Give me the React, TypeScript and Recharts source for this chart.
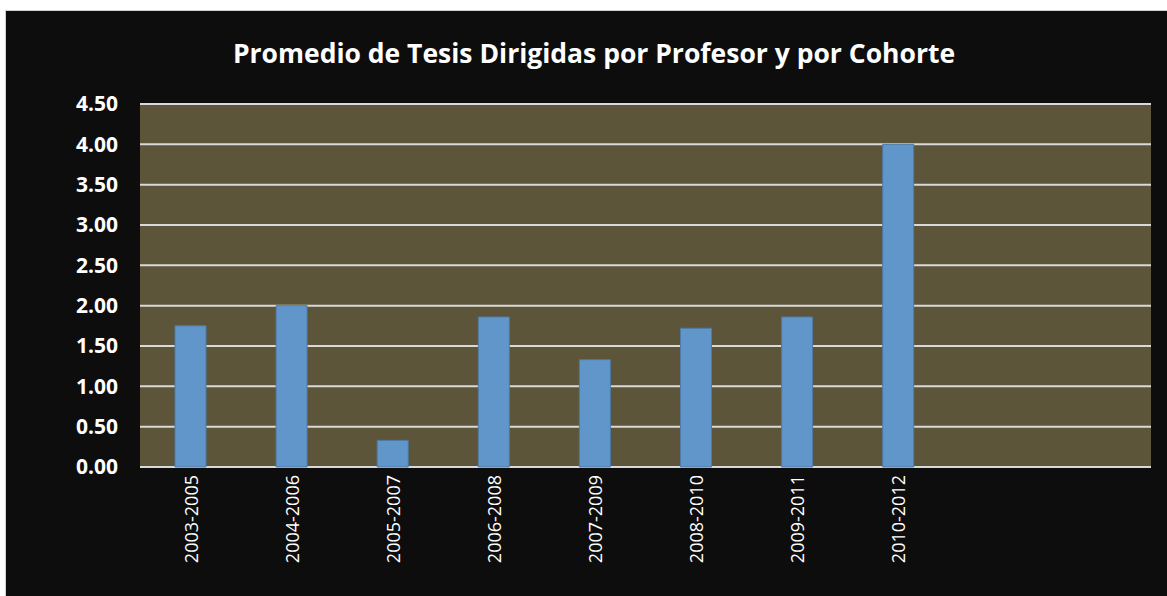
import React from "react";
import { BarChart, Bar, XAxis, YAxis, CartesianGrid } from "recharts";

const cohorts = [
  "2003-2005",
  "2004-2006",
  "2005-2007",
  "2006-2008",
  "2007-2009",
  "2008-2010",
  "2009-2011",
  "2010-2012",
  "",
  " ",
];
const promedio = [1.75, 2.0, 0.33, 1.86, 1.33, 1.72, 1.86, 4.0, null, null];
const yTicks = [0, 0.5, 1, 1.5, 2, 2.5, 3, 3.5, 4, 4.5];

const data = cohorts.map((c, i) => ({ cohorte: c, promedio: promedio[i] }));

const FONT = "'Open Sans', sans-serif";

const CohortTick = (props: any) => {
  const { x, y, payload } = props;
  return (
    <text
      x={x}
      y={y}
      transform={`rotate(-90, ${x}, ${y})`}
      textAnchor="end"
      dominantBaseline="central"
      fill="#ffffff"
      fontSize={18}
      fontFamily={FONT}
    >
      {payload.value}
    </text>
  );
};

const App = () => {
  return (
    <div
      style={{
        position: "absolute",
        left: 0,
        top: 0,
        width: 1167,
        height: 596,
        background: "#ffffff",
        fontFamily: FONT,
      }}
    >
      <div
        style={{
          position: "absolute",
          left: 5,
          top: 10,
          width: 1162,
          height: 586,
          background: "#0d0d0d",
          borderTop: "1px solid #d0d0d0",
          borderLeft: "1px solid #d0d0d0",
        }}
      >
        <div
          style={{
            position: "absolute",
            left: 0,
            top: 24,
            width: 1176,
            textAlign: "center",
            color: "#ffffff",
            fontWeight: 700,
            fontSize: 26.5,
            whiteSpace: "nowrap",
          }}
        >
          Promedio de Tesis Dirigidas por Profesor y por Cohorte
        </div>
        <BarChart
          width={1161}
          height={585}
          data={data}
          margin={{ top: 93, right: 16, left: 0, bottom: 0 }}
        >
          <CartesianGrid
            vertical={false}
            fill="#5c5539"
            stroke="#d9d9d9"
            strokeWidth={2}
          />
          <XAxis
            dataKey="cohorte"
            height={129}
            axisLine={false}
            tickLine={false}
            interval={0}
            tick={<CohortTick />}
            tickSize={0}
            tickMargin={8}
          />
          <YAxis
            width={134}
            domain={[0, 4.5]}
            ticks={yTicks}
            axisLine={false}
            tickLine={false}
            tickSize={0}
            tickMargin={22}
            tickFormatter={(v: number) => v.toFixed(2)}
            tick={{ fill: "#ffffff", fontSize: 21, fontWeight: 700, fontFamily: FONT }}
          />
          <Bar
            dataKey="promedio"
            fill="#6196cb"
            stroke="#4f7aa6"
            strokeWidth={1}
            barSize={31}
            isAnimationActive={false}
          />
        </BarChart>
      </div>
    </div>
  );
};

export default App;
